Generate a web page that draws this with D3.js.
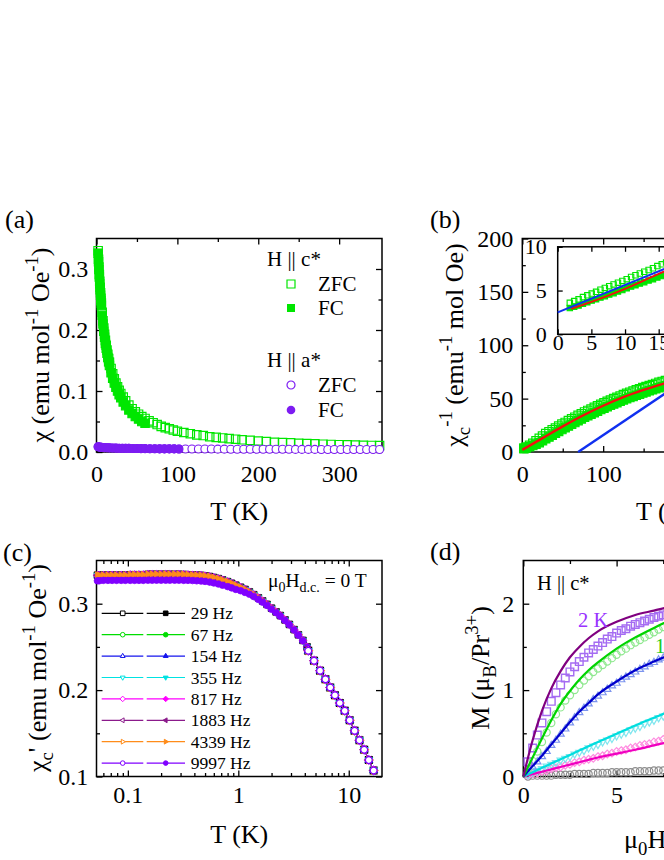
<!DOCTYPE html>
<html>
<head>
<meta charset="utf-8">
<script src="https://cdn.jsdelivr.net/npm/d3@7"></script>
<style>
  body { margin: 0; background: #fff; }
  svg { display: block; font-family: "Liberation Serif", "Times New Roman", serif; }
  svg text { white-space: pre; }
</style>
</head>
<body>
<div id="fig"></div>
<script>
// ---------- (a) chi vs T ----------
var tempC = [2,2.5,3,3.5,4,4.5,5,5.5,6,7,8,9,10,11,12,13,14,15,16,18,20,22,24,26,28,30,
  33,36,40,44,48,52,56,60,65,70,75,80,85,90,95,100,108,116,124,132,140,148,156,164,172,180,
  190,200,210,220,230,240,250,260,270,280,290,300,310,320,330,340,350];
var chiCZfc = [0.330,0.316,0.303,0.291,0.280,0.270,0.261,0.252,0.244,0.229,0.215,0.203,0.193,0.183,
  0.175,0.167,0.160,0.153,0.147,0.137,0.128,0.120,0.113,0.107,0.101,0.096,0.090,0.084,0.077,0.071,
  0.066,0.062,0.058,0.055,0.051,0.048,0.045,0.042,0.040,0.038,0.036,0.034,0.032,0.030,0.028,0.027,
  0.025,0.024,0.023,0.022,0.021,0.020,0.019,0.018,0.017,0.016,0.0155,0.015,0.0143,0.0138,0.0133,
  0.0128,0.0124,0.012,0.0116,0.0113,0.011,0.0107,0.0104];
// FC sweep (2-60 K) sits a little below the ZFC one
var chiCFc = [0.326,0.312,0.299,0.287,0.276,0.266,0.257,0.248,0.240,0.224,0.210,0.198,0.188,0.178,
  0.170,0.162,0.155,0.148,0.142,0.130,0.121,0.113,0.106,0.100,0.094,0.089,0.082,0.076,0.069,0.063,
  0.058,0.054,0.050,0.047];
var tempA = [2,4,6,8,10,13,16,20,24,28,32,36,40,45,50,55,60,66,72,78,84,90,96,102,110,118,126,
  134,142,150,158,166,174,182,190,198,206,214,222,230,238,246,254,262,270,278,286,294,302,310,
  318,326,334,342,350];
var chiA = [0.0085,0.008,0.0077,0.0074,0.0072,0.007,0.0068,0.0066,0.0064,0.0062,0.0061,0.006,0.0059,
  0.0058,0.0057,0.0056,0.0055,0.0054,0.0053,0.0052,0.0052,0.0051,0.0051,0.005,0.005,0.0049,0.0049,
  0.0048,0.0048,0.0047,0.0047,0.0046,0.0046,0.0046,0.0045,0.0045,0.0045,0.0044,0.0044,0.0044,0.0044,
  0.0043,0.0043,0.0043,0.0043,0.0042,0.0042,0.0042,0.0042,0.0042,0.0041,0.0041,0.0041,0.0041,0.004];

// ---------- (b) inverse chi ----------
var tempB = [2,5,9,13,17,21,25,29,33,37,41,45,49,53,57,61,65,69,73,77,81,85,89,93,97,101,105,109,
  113,117,121,125,129,133,137,141,145,149,153,157,161,165,169,173,177,181,185,190,195,200];
var invZfc = [3.6,4.6,6.2,8.2,10.4,12.8,15.0,17.3,19.0,20.8,22.5,24.3,26.1,27.7,29.4,31.0,32.6,34.3,
  35.9,37.5,38.9,40.3,41.8,43.2,44.7,46.1,47.4,48.7,50.0,51.2,52.5,53.8,54.9,56.0,57.1,58.2,59.2,
  60.3,61.3,62.3,63.2,64.2,65.2,66.1,67.0,67.9,68.8,69.9,71.0,72.1];
var invFc = [3.0,3.8,4.9,6.0,7.3,8.7,10.5,12.3,14.0,15.8,17.5,19.3,21.1,22.7,24.4,26.0,27.6,29.3,
  30.9,32.5,33.9,35.3,36.8,38.2,39.7,41.1,42.4,43.7,45.0,46.2,47.5,48.8,49.9,51.0,52.1,53.2,54.2,
  55.3,56.3,57.3,58.2,59.2,60.2,61.1,62.0,62.9,63.8,64.9,66.0,67.1];
var fitRedT = [0,25,50,75,100,125,150,175,200,250,300,350];
var fitRedV = [2,13,24,34.2,43.3,51.3,58.1,64.1,69.6,79.5,88.5,97];
var fitBlueT = [69,350];
var fitBlueV = [0,143];
var insetT = [1.8,2.45,3.1,3.75,4.4,5.05,5.7,6.35,7.0,7.65,8.3,8.95,9.6,10.25,10.9,11.55,12.2,
  12.85,13.5,14.15,14.8,15.45,16.1,16.75,17.4];
var insetZfc = [3.6,3.8,4.0,4.25,4.45,4.65,4.85,5.1,5.3,5.5,5.7,5.9,6.1,6.3,6.55,6.75,6.95,7.15,
  7.35,7.55,7.8,8.0,8.2,8.4,8.6];
var insetFc = [3.0,3.15,3.3,3.5,3.65,3.85,4.0,4.2,4.35,4.55,4.7,4.9,5.05,5.25,5.45,5.6,5.8,5.95,
  6.15,6.3,6.5,6.65,6.85,7.0,7.2];
var insetRedT = [2,5,10,15,20,25,30];
var insetRedV = [2.9,3.7,5.2,6.9,8.5,10.1,11.7];
var insetBlueT = [0,30];
var insetBlueV = [2.5,11.9];

// ---------- (c) ac susceptibility ----------
var freqs = ["29 Hz","67 Hz","154 Hz","355 Hz","817 Hz","1883 Hz","4339 Hz","9997 Hz"];
var freqColors = ["#000000","#00dd00","#1414ee","#00e2e2","#ff00ff","#8b1a8b","#ff8c1a","#8000ff"];
var freqShapes = ["square","circle","up","down","diamond","left","right","circle"];
var tLow = [0.053,0.055,0.060,0.066,0.072,0.079,0.087,0.095,0.105,0.115,0.126,0.138,0.152,0.166,
  0.182,0.200,0.220,0.240,0.265,0.290,0.320,0.350,0.385,0.420,0.460,0.500,0.550,0.600,0.660,0.720,
  0.800,0.870,0.950,1.05,1.15,1.26,1.38,1.52,1.66,1.82,2.00,2.20,2.40,2.65,2.90,3.20,3.50,3.85,4.20];
var chiLow = [0.333,0.333,0.333,0.333,0.333,0.333,0.333,0.333,0.3335,0.3335,0.3335,0.3335,0.334,
  0.334,0.334,0.334,0.334,0.334,0.334,0.334,0.3338,0.3335,0.3332,0.333,
  0.3328,0.3322,0.3314,0.3303,0.3290,0.3275,0.3255,0.3236,0.3214,
  0.3190,0.3165,0.3137,0.3104,0.3068,0.3032,0.2992,0.2948,
  0.2905,0.2863,0.2812,0.2760,0.2700,0.2640,0.2575,0.2500];
var chiLow9997 = [0.3265,0.3265,0.327,0.327,0.327,0.327,0.327,0.327,0.327,0.327,0.327,0.327,0.3272,
  0.3272,0.3272,0.3272,0.3272,0.3272,0.3272,0.3272,0.327,0.327,0.3268,0.3265,
  0.3262,0.3258,0.3250,0.3240,0.3228,0.3214,0.3198,0.3183,0.3165,
  0.3150,0.3130,0.3110,0.3082,0.3050,0.3017,0.2980,0.2935,
  0.2895,0.2855,0.2805,0.2755,0.2695,0.2635,0.2570,0.2495];
var tHigh = [4.3,4.85,5.5,6.15,6.8,7.5,8.3,9.2,10.2,11.3,12.5,13.8,15.2,16.8];
var chiHigh = [0.2455,0.2340,0.2225,0.2125,0.2030,0.1940,0.1850,0.1760,0.1650,0.1530,0.1420,
  0.1310,0.1190,0.1070];

// ---------- (d) M vs H ----------
var hFit = [0,0.5,1,1.5,2,2.5,3,3.5,4,5,6,7,8,10,12,14];
var fit2K = [0,0.42,0.76,1.02,1.22,1.38,1.50,1.60,1.68,1.79,1.87,1.92,1.97,2.03,2.07,2.10];
var fitGreen = [0,0.22,0.44,0.65,0.84,0.99,1.12,1.23,1.32,1.48,1.61,1.72,1.82,1.96,2.04,2.09];
var fitBlue = [0,0.12,0.24,0.37,0.50,0.63,0.75,0.85,0.95,1.10,1.23,1.33,1.42,1.58,1.70,1.80];
var fitCyan = [0,0.05,0.10,0.15,0.20,0.25,0.30,0.35,0.40,0.495,0.59,0.68,0.77,0.94,1.10,1.25];
var fitMag = [0,0.028,0.055,0.083,0.11,0.138,0.165,0.193,0.22,0.265,0.31,0.36,0.41,0.50,0.59,0.67];
var hPts = [0.25,0.5,0.75,1,1.25,1.5,1.75,2,2.25,2.5,2.75,3,3.25,3.5,3.75,4,4.25,4.5,4.75,5,
  5.25,5.5,5.75,6,6.25,6.5,6.75,7,7.25,7.5,7.75,8];
var pts2K = [0.17,0.33,0.48,0.62,0.75,0.87,0.97,1.06,1.14,1.21,1.27,1.33,1.38,1.43,1.47,1.51,1.55,
  1.59,1.62,1.66,1.69,1.71,1.74,1.76,1.78,1.80,1.82,1.84,1.855,1.87,1.885,1.90];
var ptsGreen = [0.08,0.18,0.29,0.40,0.51,0.62,0.72,0.80,0.88,0.94,1.00,1.06,1.11,1.16,1.21,1.25,
  1.29,1.33,1.37,1.41,1.45,1.48,1.52,1.55,1.58,1.61,1.64,1.67,1.70,1.73,1.75,1.78];
var ptsBlue = [0.05,0.11,0.17,0.23,0.29,0.36,0.42,0.49,0.55,0.62,0.68,0.74,0.79,0.84,0.89,0.93,
  0.97,1.01,1.05,1.08,1.12,1.15,1.18,1.21,1.24,1.27,1.30,1.32,1.35,1.37,1.40,1.42];
var ptsCyan = [0.02,0.05,0.07,0.09,0.12,0.14,0.16,0.19,0.21,0.23,0.26,0.28,0.30,0.33,0.35,0.37,
  0.40,0.42,0.44,0.47,0.49,0.51,0.54,0.56,0.58,0.61,0.63,0.65,0.68,0.70,0.72,0.75];
var ptsMag = [0.01,0.03,0.04,0.06,0.07,0.09,0.10,0.11,0.13,0.14,0.16,0.17,0.19,0.20,0.21,0.23,
  0.24,0.26,0.27,0.29,0.30,0.31,0.33,0.34,0.36,0.37,0.38,0.40,0.41,0.43,0.44,0.46];
var ptsGray = [0.00,0.01,0.01,0.01,0.01,0.01,0.02,0.02,0.02,0.02,0.03,0.03,0.03,0.03,0.04,0.04,
  0.04,0.04,0.05,0.05,0.05,0.05,0.05,0.06,0.06,0.06,0.06,0.07,0.07,0.07,0.07,0.08];

var SERIF = '"Liberation Serif","Times New Roman",serif';
var W = 285.5;
var TICK_FS = 24, TITLE_FS = 26;
var svg = d3.select("#fig").append("svg").attr("width", 664).attr("height", 860);

function panel(x, y) {
  return svg.append("g").attr("transform", "translate(" + x + "," + y + ")");
}

// inward ticks on all four sides, labels only bottom/left
function frame(g, x, y, w, h, o) {
  function ax(gen, tr, vals, size, fmt, pad) {
    var a = g.append("g").attr("transform", tr)
      .call(gen.tickValues(vals).tickSize(size).tickPadding(pad || 3)
        .tickFormat(fmt === undefined ? "" : fmt));
    a.select(".domain").remove();
    a.selectAll("line").attr("stroke-width", 1.3);
    a.attr("font-family", SERIF).attr("font-size", o.fs || TICK_FS);
    a.selectAll("text").attr("fill", "#000");
  }
  var big = o.tick || 6, small = o.minor || 3.5;
  ax(d3.axisBottom(x), "translate(0," + h + ")", o.xMajor, -big, o.xFmt || d3.format("d"), o.xPad);
  ax(d3.axisBottom(x), "translate(0," + h + ")", o.xMinor || [], -small);
  ax(d3.axisTop(x), null, o.xMajor, -big);
  ax(d3.axisTop(x), null, o.xMinor || [], -small);
  ax(d3.axisLeft(y), null, o.yMajor, -big, o.yFmt || d3.format("d"), o.yPad);
  ax(d3.axisLeft(y), null, o.yMinor || [], -small);
  ax(d3.axisRight(y), "translate(" + w + ",0)", o.yMajor, -big);
  ax(d3.axisRight(y), "translate(" + w + ",0)", o.yMinor || [], -small);
  g.append("rect").attr("width", w).attr("height", h)
    .attr("fill", "none").attr("stroke", "#000").attr("stroke-width", 1.5);
}

function marker(shape, r) {
  var p = d3.path();
  if (shape === "square") p.rect(-r, -r, 2 * r, 2 * r);
  else if (shape === "circle") p.arc(0, 0, r, 0, 2 * Math.PI);
  else if (shape === "diamond") { p.moveTo(0, -r * 1.2); p.lineTo(r * 1.2, 0); p.lineTo(0, r * 1.2); p.lineTo(-r * 1.2, 0); }
  else {
    var a = r * 1.2, b = r * 0.6, c = r * 1.05;
    if (shape === "up") { p.moveTo(0, -a); p.lineTo(c, b); p.lineTo(-c, b); }
    if (shape === "down") { p.moveTo(0, a); p.lineTo(c, -b); p.lineTo(-c, -b); }
    if (shape === "left") { p.moveTo(-a, 0); p.lineTo(b, c); p.lineTo(b, -c); }
    if (shape === "right") { p.moveTo(a, 0); p.lineTo(-b, c); p.lineTo(-b, -c); }
  }
  p.closePath();
  return p.toString();
}

function points(g, x, y, xs, ys, shape, r, stroke, fill, sw) {
  g.append("g").selectAll("path").data(d3.zip(xs, ys)).join("path")
    .attr("d", marker(shape, r))
    .attr("transform", function(d) { return "translate(" + x(d[0]) + "," + y(d[1]) + ")"; })
    .attr("fill", fill).attr("stroke", stroke).attr("stroke-width", sw || 1.1);
}

function curve(g, x, y, xs, ys, color, width) {
  var line = d3.line().x(function(d) { return x(d[0]); }).y(function(d) { return y(d[1]); })
    .curve(d3.curveMonotoneX);
  g.append("path").attr("d", line(d3.zip(xs, ys)))
    .attr("fill", "none").attr("stroke", color).attr("stroke-width", width);
}

// text with sub/superscripts: parts = [[text, "sub"|"sup"|undefined], ...]
function rich(t, parts, size) {
  var cur = 0;
  parts.forEach(function(p) {
    var off = p[1] === "sub" ? 0.25 * size : p[1] === "sup" ? -0.42 * size : 0;
    var s = t.append("tspan").attr("dy", off - cur).text(p[0]);
    if (p[1]) s.attr("font-size", size * 0.72);
    cur = off;
  });
  return t;
}

function label(g, x, y, parts, size, color, anchor, rot) {
  var t = g.append("text").attr("font-size", size).attr("fill", color || "#000")
    .attr("text-anchor", anchor || "start")
    .attr("transform", "translate(" + x + "," + y + ")" + (rot ? " rotate(-90)" : ""));
  return rich(t, parts, size);
}

// ================= (a) =================
var ha = 213.5;
var xa = d3.scaleLinear().domain([0, 353]).range([0, W]);
var ya = d3.scaleLinear().domain([0, 0.35]).range([ha, 0]);
var ga = panel(96.5, 238.5);
frame(ga, xa, ya, W, ha, {
  xMajor: [0, 100, 200, 300], xMinor: [50, 150, 250], xPad: 13,
  yMajor: [0, 0.1, 0.2, 0.3], yMinor: [0.05, 0.15, 0.25], yFmt: d3.format(".1f"), yPad: 8.3
});
var greenA = "#00e600", purpleA = "#7d1cf2";
points(ga, xa, ya, tempC.slice(0, chiCFc.length), chiCFc, "square", 4.2, greenA, greenA);
points(ga, xa, ya, tempC, chiCZfc, "square", 4.2, greenA, "none", 1.2);
points(ga, xa, ya, tempA, chiA, "circle", 4, purpleA, "#fff");
// FC sweep along a* stops near 100 K
points(ga, xa, ya, tempA.slice(0, 24), chiA.slice(0, 24), "circle", 4, purpleA, purpleA);
// legend
label(ga, 170.5, 27.5, [["H || c*"]], 21);
ga.append("path").attr("d", marker("square", 4)).attr("transform", "translate(194.5,45.5)")
  .attr("fill", "none").attr("stroke", greenA).attr("stroke-width", 1.2);
ga.append("path").attr("d", marker("square", 4)).attr("transform", "translate(194.5,69.5)")
  .attr("fill", greenA);
label(ga, 221.5, 52.5, [["ZFC"]], 21);
label(ga, 221.5, 76.5, [["FC"]], 21);
label(ga, 170.5, 128.5, [["H || a*"]], 21);
ga.append("path").attr("d", marker("circle", 4)).attr("transform", "translate(194.5,146.5)")
  .attr("fill", "none").attr("stroke", purpleA).attr("stroke-width", 1.2);
ga.append("path").attr("d", marker("circle", 4.3)).attr("transform", "translate(194.5,171.5)")
  .attr("fill", purpleA);
label(ga, 221.5, 153.5, [["ZFC"]], 21);
label(ga, 221.5, 178.5, [["FC"]], 21);
label(svg, 5, 228, [["(a)"]], 26);
label(svg, 239.25, 520, [["T (K)"]], TITLE_FS, "#000", "middle");
label(svg, 49, 345, [["χ (emu mol"], ["-1", "sup"], [" Oe"], ["-1", "sup"], [")"]], TITLE_FS, "#000", "middle", true);

// ================= (b) =================
var xb = d3.scaleLinear().domain([0, 353]).range([0, W]);
var yb = d3.scaleLinear().domain([0, 200]).range([ha, 0]);
var gb = panel(522.3, 238.5);
frame(gb, xb, yb, W, ha, {
  xMajor: [0, 100, 200, 300], xMinor: [50, 150, 250], xPad: 13,
  yMajor: [0, 50, 100, 150, 200], yMinor: [25, 75, 125, 175], yPad: 9
});
var greenB = "#00e600", redB = "#f01010", blueB = "#1030f0";
points(gb, xb, yb, tempB, invFc, "square", 4.2, greenB, greenB);
points(gb, xb, yb, tempB, invZfc, "square", 4.2, greenB, "none", 1.2);
curve(gb, xb, yb, fitRedT, fitRedV, redB, 2.4);
curve(gb, xb, yb, fitBlueT, fitBlueV, blueB, 2.4);
// inset
var hi = 87.5, wi = 202;
var xi = d3.scaleLinear().domain([0, 30]).range([0, wi]);
var yi = d3.scaleLinear().domain([0, 10]).range([hi, 0]);
var gi = gb.append("g").attr("transform", "translate(35.4,8.3)");
gi.append("rect").attr("width", wi).attr("height", hi).attr("fill", "#fff");
frame(gi, xi, yi, wi, hi, {
  tick: 5, fs: 22, xMajor: [0, 5, 10, 15, 20, 25, 30], xPad: 0.5,
  yMajor: [0, 5, 10], yPad: 11
});
points(gi, xi, yi, insetT, insetFc, "square", 2.7, greenB, greenB);
points(gi, xi, yi, insetT, insetZfc, "square", 2.7, greenB, "none");
curve(gi, xi, yi, insetRedT, insetRedV, redB, 2);
curve(gi, xi, yi, insetBlueT, insetBlueV, blueB, 2);
label(svg, 430, 228, [["(b)"]], 26);
label(svg, 665, 520, [["T (K)"]], TITLE_FS, "#000", "middle");
label(svg, 463, 345, [["χ"], ["c", "sub"], ["-1", "sup"], [" (emu"], ["-1", "sup"], [" mol Oe)"]], TITLE_FS, "#000", "middle", true);

// ================= (c) =================
var hc = 216;
var xc = d3.scaleLog().domain([0.052, 20]).range([0, W]);
var yc = d3.scaleLinear().domain([0.1, 0.35]).range([hc, 0]);
var gc = panel(96.5, 560.5);
var logMinor = [0.06, 0.07, 0.08, 0.09, 0.2, 0.3, 0.4, 0.5, 0.6, 0.7, 0.8, 0.9, 2, 3, 4, 5, 6, 7, 8, 9];
frame(gc, xc, yc, W, hc, {
  xMajor: [0.1, 1, 10], xMinor: logMinor, xFmt: function(d) { return String(d); }, xPad: 9.5,
  yMajor: [0.1, 0.2, 0.3], yMinor: [0.15, 0.25], yFmt: d3.format(".1f"), yPad: 8.3
});
freqs.forEach(function(f, i) {
  var vals = i === 7 ? chiLow9997 : chiLow;
  curve(gc, xc, yc, tLow, vals, freqColors[i], 1);
  points(gc, xc, yc, tLow, vals, freqShapes[i], 3.3, freqColors[i], freqColors[i], 0.8);
});
freqs.forEach(function(f, i) {
  curve(gc, xc, yc, tHigh, chiHigh, freqColors[i], 1);
  points(gc, xc, yc, tHigh, chiHigh, freqShapes[i], 3.4, freqColors[i], "#fff", 1.2);
});
// legend
freqs.forEach(function(f, i) {
  var yy = 52.8 + i * 21.4, col = freqColors[i];
  gc.append("line").attr("x1", 5.2).attr("x2", 46.8).attr("y1", yy).attr("y2", yy)
    .attr("stroke", col).attr("stroke-width", 1.2);
  gc.append("line").attr("x1", 50.2).attr("x2", 88.5).attr("y1", yy).attr("y2", yy)
    .attr("stroke", col).attr("stroke-width", 1.2);
  gc.append("path").attr("d", marker(freqShapes[i], 2.3)).attr("transform", "translate(26.2," + yy + ")")
    .attr("fill", "#fff").attr("stroke", col).attr("stroke-width", 1);
  gc.append("path").attr("d", marker(freqShapes[i], 2.3)).attr("transform", "translate(69.2," + yy + ")")
    .attr("fill", col).attr("stroke", col).attr("stroke-width", 1);
  label(gc, 94.2, yy + 6, [[f]], 17.5);
});
label(gc, 171.5, 26.5, [["μ"], ["0", "sub"], ["H"], ["d.c.", "sub"], [" = 0 T"]], 19.5);
label(svg, 3, 561, [["(c)"]], 26);
label(svg, 239.25, 843, [["T (K)"]], TITLE_FS, "#000", "middle");
label(svg, 46, 668, [["χ"], ["c", "sub"], ["' (emu mol"], ["-1", "sup"], [" Oe"], ["-1", "sup"], [")"]], TITLE_FS, "#000", "middle", true);

// ================= (d) =================
var xd = d3.scaleLinear().domain([0, 15.3]).range([0, W]);
var yd = d3.scaleLinear().domain([0, 2.5]).range([hc, 0]);
var gd = panel(523.3, 560.5);
frame(gd, xd, yd, W, hc, {
  xMajor: [0, 5, 10, 15], xMinor: [2.5, 7.5, 12.5], xPad: 9.5,
  yMajor: [0, 1, 2], yMinor: [0.5, 1.5], yPad: 9
});
points(gd, xd, yd, hPts, ptsGray, "circle", 3.6, "#8c8c8c", "none", 1.2);
points(gd, xd, yd, hPts, ptsMag, "diamond", 3.2, "#ff8ce0", "none", 1.2);
points(gd, xd, yd, hPts, ptsCyan, "down", 3.4, "#7fe6ee", "none", 1.2);
points(gd, xd, yd, hPts, ptsBlue, "up", 3.4, "#7d95ee", "none", 1.2);
points(gd, xd, yd, hPts, ptsGreen, "circle", 3.6, "#8fe88f", "none", 1.2);
points(gd, xd, yd, hPts, pts2K, "square", 3.8, "#a56cf2", "none", 1.4);
curve(gd, xd, yd, hFit, fitMag, "#f000c0", 2.2);
curve(gd, xd, yd, hFit, fitCyan, "#00dede", 2.2);
curve(gd, xd, yd, hFit, fitBlue, "#0000cc", 2.2);
curve(gd, xd, yd, hFit, fitGreen, "#00d400", 2.2);
curve(gd, xd, yd, hFit, fit2K, "#800080", 2.2);
label(gd, 13.7, 29.5, [["H || c*"]], 20.5);
label(gd, 54.7, 66.5, [["2 K"]], 20.5, "#9933ff");
label(gd, 131.7, 92.5, [["10 K"]], 20.5, "#22cc22");
label(svg, 430, 560, [["(d)"]], 26);
label(svg, 665, 848, [["μ"], ["0", "sub"], ["H (T)"]], TITLE_FS, "#000", "middle");
label(svg, 489, 668, [["M (μ"], ["B", "sub"], ["/Pr"], ["3+", "sup"], [")"]], TITLE_FS, "#000", "middle", true);
</script>
</body>
</html>
